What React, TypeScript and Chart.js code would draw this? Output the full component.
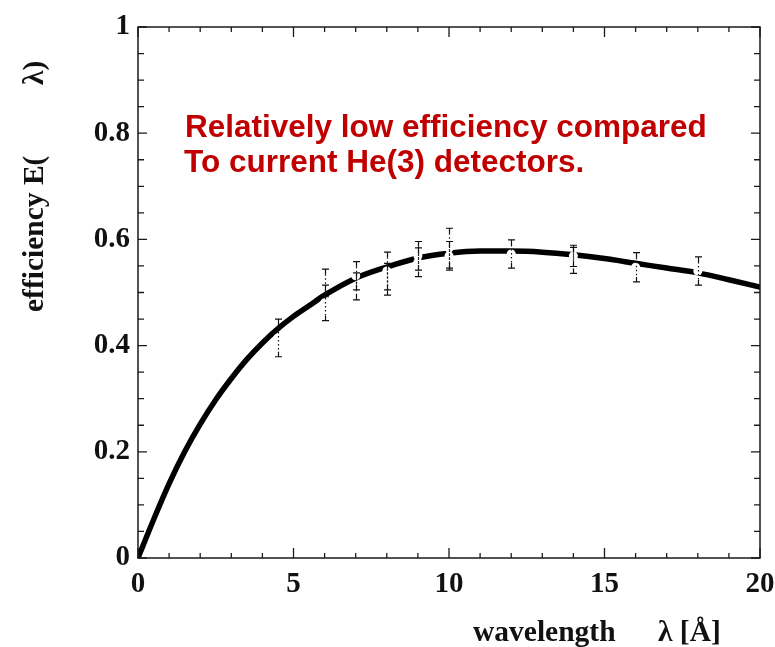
import React, { useEffect, useRef } from "react";
import { Chart, registerables } from "chart.js";
Chart.register(...registerables);

// Model curve E(λ)
const curveLambda = [0, 0.5, 1, 1.5, 2, 2.5, 3, 3.5, 4, 4.5, 5, 5.5, 6, 7, 8, 9, 10, 11, 12, 13, 14, 15, 16, 17, 18, 19, 20];
const curveEff = [0, 0.072, 0.14, 0.2, 0.252, 0.298, 0.338, 0.374, 0.405, 0.432, 0.455, 0.475, 0.495, 0.527, 0.548, 0.565, 0.574, 0.578, 0.578, 0.576, 0.571, 0.564, 0.555, 0.546, 0.537, 0.524, 0.51];

// Measured points with error bars
const ptLambda = [4.5, 6, 6, 7, 7, 8, 8, 9, 9, 10, 10, 12, 14, 14, 16, 18];
const ptEff = [0.4145, 0.518, 0.4805, 0.5315, 0.5115, 0.5405, 0.525, 0.569, 0.557, 0.5835, 0.569, 0.5725, 0.569, 0.5605, 0.5475, 0.5405];
const ptErr = [0.0355, 0.026, 0.0335, 0.0265, 0.0255, 0.0355, 0.03, 0.027, 0.027, 0.0375, 0.027, 0.0265, 0.02, 0.0245, 0.0275, 0.0265];

const xMajorStep = 5;
const yMajorStep = 0.2;
const annotationLines = ["Relatively low efficiency compared", "To current He(3) detectors."];
const yTitleParts = ["efficiency E(", "λ)"];
const xTitleParts = ["wavelength", "λ [Å]"];

const SERIF = '"Liberation Serif", "Times New Roman", serif';

const framePlugin = {
  id: "frame",
  afterDatasetsDraw(chart: any) {
    const { ctx, chartArea: a, scales } = chart;
    const x = scales.x;
    const y = scales.y;
    ctx.save();

    // error bars
    ctx.strokeStyle = "#111";
    ctx.lineWidth = 1.2;
    for (let i = 0; i < ptLambda.length; i++) {
      const px = Math.round(x.getPixelForValue(ptLambda[i])) + 0.5;
      const pt = y.getPixelForValue(ptEff[i] + ptErr[i]);
      const pb = y.getPixelForValue(ptEff[i] - ptErr[i]);
      ctx.setLineDash([]);
      ctx.beginPath();
      ctx.moveTo(px - 3.5, pt); ctx.lineTo(px + 3.5, pt);
      ctx.moveTo(px - 3.5, pb); ctx.lineTo(px + 3.5, pb);
      ctx.moveTo(px, pt); ctx.lineTo(px, pt + 5);
      ctx.moveTo(px, pb); ctx.lineTo(px, pb - 5);
      ctx.stroke();
      ctx.setLineDash([1.5, 2.5]);
      ctx.beginPath();
      ctx.moveTo(px, pt + 5); ctx.lineTo(px, pb - 5);
      ctx.stroke();
    }
    ctx.setLineDash([]);

    // frame box
    ctx.strokeStyle = "#1a1a1a";
    ctx.lineWidth = 1.5;
    ctx.strokeRect(a.left, a.top, a.right - a.left, a.bottom - a.top);

    // inward ticks
    ctx.lineWidth = 1.3;
    ctx.beginPath();
    for (let v = x.min; v <= x.max + 1e-9; v += 1) {
      const px = x.getPixelForValue(v);
      const major = Math.abs(v / xMajorStep - Math.round(v / xMajorStep)) < 1e-6;
      const len = major ? 10 : 5;
      ctx.moveTo(px, a.bottom); ctx.lineTo(px, a.bottom - len);
      ctx.moveTo(px, a.top); ctx.lineTo(px, a.top + len);
    }
    for (let k = 0; k <= 20; k++) {
      const v = k * 0.05;
      const py = y.getPixelForValue(v);
      const major = k % Math.round(yMajorStep / 0.05) === 0;
      const len = major ? 9 : 6;
      ctx.moveTo(a.left, py); ctx.lineTo(a.left + len, py);
      ctx.moveTo(a.right, py); ctx.lineTo(a.right - len, py);
    }
    ctx.stroke();

    // annotation
    ctx.fillStyle = "#c00000";
    ctx.font = 'bold 31.5px "Liberation Sans", Arial, sans-serif';
    ctx.textAlign = "left";
    ctx.textBaseline = "alphabetic";
    ctx.fillText(annotationLines[0], a.left + 47, a.top + 110);
    ctx.fillText(annotationLines[1], a.left + 46, a.top + 145);

    // axis titles
    ctx.fillStyle = "#111";
    ctx.font = "bold 29.5px " + SERIF;
    ctx.save();
    ctx.translate(a.left - 95, a.bottom - 246);
    ctx.rotate(-Math.PI / 2);
    ctx.fillText(yTitleParts[0], 0, 0);
    ctx.restore();
    ctx.save();
    ctx.translate(a.left - 95, a.top + 58);
    ctx.rotate(-Math.PI / 2);
    ctx.fillText(yTitleParts[1], 0, 0);
    ctx.restore();

    ctx.fillText(xTitleParts[0], a.left + 335, a.bottom + 83);
    ctx.fillText(xTitleParts[1], a.left + 520, a.bottom + 83);

    ctx.restore();
  },
};

export default function App() {
  const ref = useRef<HTMLCanvasElement | null>(null);
  useEffect(() => {
    if (!ref.current) return;
    const chart = new Chart(ref.current, {
      type: "line",
      data: {
        datasets: [
          {
            label: "model",
            data: curveLambda.map((l, i) => ({ x: l, y: curveEff[i] })),
            borderColor: "#000",
            borderWidth: 5.5,
            pointRadius: 0,
            cubicInterpolationMode: "monotone",
            borderCapStyle: "round",
            borderJoinStyle: "round",
            fill: false,
            order: 2,
          },
          {
            label: "data",
            data: ptLambda.map((l, i) => ({ x: l, y: ptEff[i] })),
            showLine: false,
            pointRadius: 4.5,
            pointBackgroundColor: "#fff",
            pointBorderColor: "rgba(0,0,0,0)",
            pointBorderWidth: 0,
            order: 1,
          },
        ],
      },
      options: {
        responsive: false,
        animation: false,
        devicePixelRatio: 1,
        layout: { padding: { top: 27, right: 15, left: 0, bottom: 0 } },
        plugins: { legend: { display: false }, tooltip: { enabled: false } },
        scales: {
          x: {
            type: "linear",
            min: 0,
            max: 20,
            grid: { display: false, drawTicks: false },
            border: { display: false },
            ticks: {
              stepSize: xMajorStep,
              padding: 9,
              color: "#111",
              font: { family: SERIF, size: 29, weight: "bold" },
              maxRotation: 0,
            },
            afterFit(scale: any) {
              scale.height = 89;
              scale.paddingLeft = 0;
              scale.paddingRight = 0;
            },
          },
          y: {
            type: "linear",
            min: 0,
            max: 1,
            grid: { display: false, drawTicks: false },
            border: { display: false },
            ticks: {
              stepSize: yMajorStep,
              padding: 8,
              color: "#111",
              font: { family: SERIF, size: 29, weight: "bold" },
              callback: (v: any) => String(Math.round(Number(v) * 10) / 10),
            },
            afterFit(scale: any) {
              scale.width = 138;
              scale.paddingTop = 0;
              scale.paddingBottom = 0;
            },
          },
        },
      },
      plugins: [framePlugin],
    } as any);
    return () => chart.destroy();
  }, []);
  return (
    <div style={{ position: "absolute", left: 0, top: 0, width: 775, height: 647, background: "#fff" }}>
      <canvas ref={ref} width={775} height={647} />
    </div>
  );
}
